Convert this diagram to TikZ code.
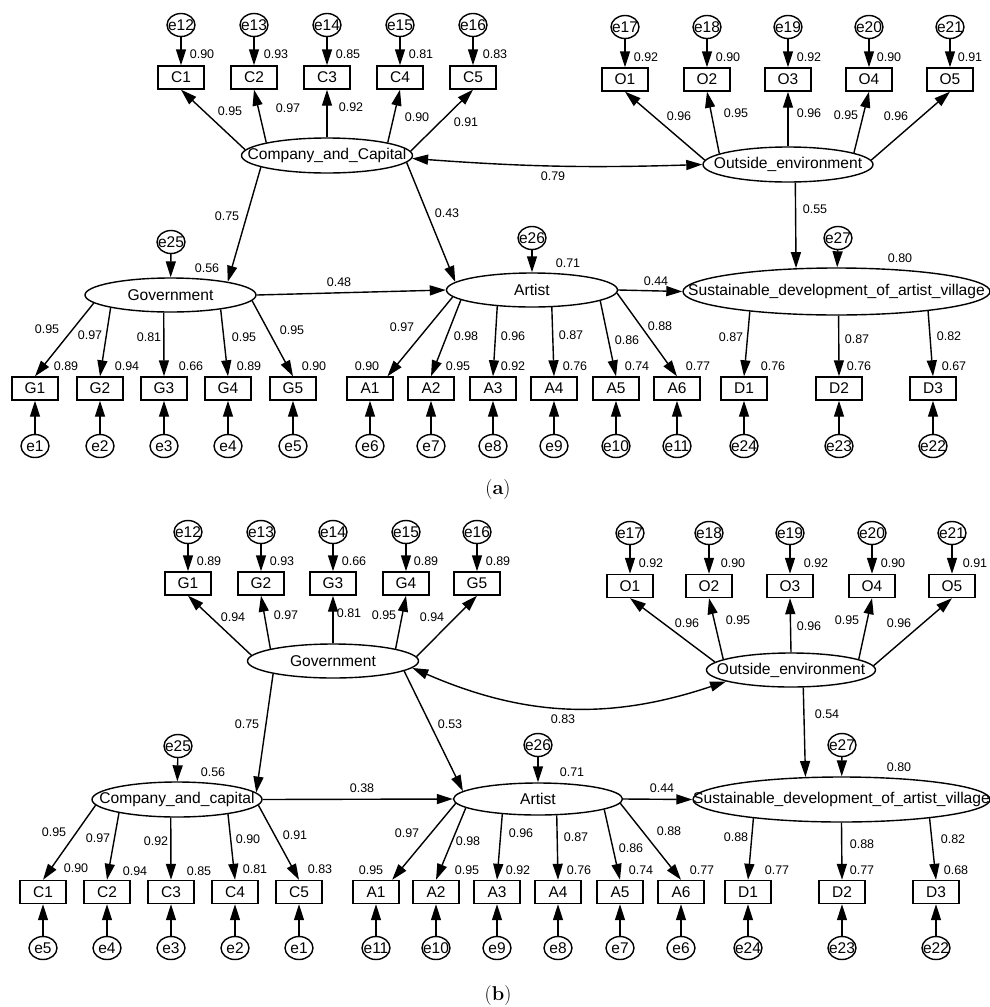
\documentclass[tikz,border=0pt]{standalone}
\usepackage{fontspec}
\newfontfamily\arial{Liberation Sans}
\usetikzlibrary{arrows.meta,shapes.geometric}
\begin{document}
\begin{tikzpicture}[x=1pt,y=-1pt,line width=1.4pt,
 >={Triangle[length=16pt,width=10pt]},
 arr/.style={->},
 dbl/.style={<->},
 lat/.style={ellipse,draw,inner xsep=-60pt,inner ysep=0pt,font=\arial\fontsize{15.6}{16}\selectfont},
 obs/.style={rectangle,draw,minimum width=46pt,minimum height=23pt,inner sep=0pt,font=\arial\fontsize{15.5}{16}\selectfont},
 err/.style={ellipse,draw,minimum width=28pt,minimum height=23pt,inner xsep=-5pt,inner ysep=0pt,font=\arial\fontsize{15.5}{16}\selectfont},
 num/.style={inner sep=0pt,font=\arial\fontsize{12.5}{13}\selectfont},
 captxt/.style={inner sep=0pt,font=\fontsize{20}{24}\selectfont}]
\fill[white] (0,0) rectangle (990,1007);
\useasboundingbox (0,0) rectangle (990,1007);

% ================= Panel (a) =================
\node[lat,minimum width=171pt,minimum height=35pt] (acc) at (327,155.5) {Company\_and\_Capital};
\node[lat,minimum width=170pt,minimum height=35pt] (aoe) at (788,164.5) {Outside\_environment};
\node[lat,minimum width=171pt,minimum height=34pt] (agov) at (170.5,295) {Government};
\node[lat,minimum width=171pt,minimum height=34pt] (aart) at (532,290) {Artist};
\node[lat,minimum width=307pt,minimum height=47pt] (asd) at (836.5,291.5) {Sustainable\_development\_of\_artist\_village};

\node[err] (ae25) at (171,242) {e25};
\node[err] (ae26) at (532,238) {e26};
\node[err] (ae27) at (838,238) {e27};
\draw[arr] (ae25) -- (agov);
\draw[arr] (ae26) -- (aart);
\draw[arr] (ae27) -- (asd);

\draw[arr] (acc.190) -- (agov.13);
\draw[arr] (acc.355) -- (aart.174);
\draw[dbl] (acc.358) to[bend right=3] (aoe.west);
\draw[arr] (aoe.292) -- (asd.150);
\draw[arr] (agov.east) -- (aart.west);
\draw[arr] (aart.east) -- (asd.west);

\node[num] (an075) at (227,216) {0.75};
\node[num] (an043) at (447,213) {0.43};
\node[num] (an079) at (553,176) {0.79};
\node[num] (an055) at (815,209) {0.55};
\node[num] (an056) at (207,268) {0.56};
\node[num] (an048) at (339,282) {0.48};
\node[num] (an071) at (568,263) {0.71};
\node[num] (an044) at (656,281) {0.44};
\node[num] (an080) at (900,258) {0.80};

\foreach \ii/\xx/\ee/\rx/\rv/\lx/\ly/\lv/\ang in {1/181/12/202/0.90/230/111/0.95/176, 2/254/13/276/0.93/288/108/0.97/168, 3/327/14/348/0.85/351/107/0.92/90, 4/400/15/421/0.81/417/117/0.90/12, 5/473/16/495/0.83/466/122/0.91/3}{
 \node[err] (ae\ee) at (\xx,25) {e\ee};
 \node[obs] (aC\ii) at (\xx,77.5) {C\ii};
 \node[num] (aRC\ii) at (\rx,54) {\rv};
 \node[num] (aLC\ii) at (\lx,\ly) {\lv};
 \draw[arr] (ae\ee) -- (aC\ii);
 \draw[arr] (acc.\ang) -- (aC\ii.south);
}
\foreach \ii/\xx/\ee/\rx/\rv/\lx/\ly/\lv/\ang in {1/625/17/646/0.92/679/116/0.96/177, 2/707/18/728/0.90/736/113/0.95/171, 3/788/19/809/0.92/809/113/0.96/90, 4/869/20/889/0.90/846/115/0.95/10, 5/950/21/970/0.91/896/116/0.96/3}{
 \node[err] (ae\ee) at (\xx,27) {e\ee};
 \node[obs] (aO\ii) at (\xx,79.5) {O\ii};
 \node[num] (aRO\ii) at (\rx,57) {\rv};
 \node[num] (aLO\ii) at (\lx,\ly) {\lv};
 \draw[arr] (ae\ee) -- (aO\ii);
 \draw[arr] (aoe.\ang) -- (aO\ii.south);
}
\foreach \ii/\xx/\ee/\rx/\rv/\lx/\ly/\lv/\ang in {1/35/1/66/0.89/47/329/0.95/186, 2/100/2/127/0.94/90/335/0.97/192, 3/164/3/191/0.66/149/337/0.81/249, 4/228/4/249/0.89/244/337/0.95/344, 5/293/5/314/0.90/292/330/0.95/356}{
 \node[err] (ae\ee) at (\xx,446) {e\ee};
 \node[obs] (aG\ii) at (\xx,388.5) {G\ii};
 \node[num] (aRG\ii) at (\rx,366) {\rv};
 \node[num] (aLG\ii) at (\lx,\ly) {\lv};
 \draw[arr] (ae\ee) -- (aG\ii);
 \draw[arr] (agov.\ang) -- (aG\ii.north);
}
\foreach \ii/\xx/\ee/\rx/\rv/\lx/\ly/\lv/\ang/\anc in {1/370/6/367/0.90/402/327/0.97/185/35, 2/431/7/458/0.95/466/336/0.98/188/north, 3/493/8/513/0.92/513/336/0.96/205/north, 4/554/9/575/0.76/571/335/0.87/319/north, 5/616/10/637/0.74/627/340/0.86/351/north, 6/677/11/698/0.77/660/326/0.88/358/north}{
 \node[err] (ae\ee) at (\xx,446) {e\ee};
 \node[obs] (aA\ii) at (\xx,388.5) {A\ii};
 \node[num] (aRA\ii) at (\rx,366) {\rv};
 \node[num] (aLA\ii) at (\lx,\ly) {\lv};
 \draw[arr] (ae\ee) -- (aA\ii);
 \draw[arr] (aart.\ang) -- (aA\ii.\anc);
}
\foreach \ii/\xx/\ee/\rx/\rv/\lx/\ly/\lv/\ang in {1/744/24/773/0.76/731/337/0.87/193, 2/839/23/859/0.76/857/339/0.87/275, 3/933/22/954/0.67/949/336/0.82/348}{
 \node[err] (ae\ee) at (\xx,446) {e\ee};
 \node[obs] (aD\ii) at (\xx,388.5) {D\ii};
 \node[num] (aRD\ii) at (\rx,366) {\rv};
 \node[num] (aLD\ii) at (\lx,\ly) {\lv};
 \draw[arr] (ae\ee) -- (aD\ii);
 \draw[arr] (asd.\ang) -- (aD\ii.north);
}
\node[captxt] (capa) at (498,490) {(\textbf{a})};

% ================= Panel (b) =================
\node[lat,minimum width=171pt,minimum height=34pt] (bgov) at (333,661) {Government};
\node[lat,minimum width=169pt,minimum height=34pt] (boe) at (791,670) {Outside\_environment};
\node[lat,minimum width=170pt,minimum height=35pt] (bcc) at (177,799.5) {Company\_and\_capital};
\node[lat,minimum width=169pt,minimum height=32pt] (bart) at (538,799) {Artist};
\node[lat,minimum width=297pt,minimum height=45pt] (bsd) at (841.5,799.5) {Sustainable\_development\_of\_artist\_village};

\node[err] (be25) at (178,746) {e25};
\node[err] (be26) at (538,745) {e26};
\node[err] (be27) at (842,745) {e27};
\draw[arr] (be25) -- (bcc);
\draw[arr] (be26) -- (bart);
\draw[arr] (be27) -- (bsd);

\draw[arr] (bgov.192) -- (bcc.5);
\draw[arr] (bgov.352) -- (bart.174);
\draw[dbl] (bgov.355) to[bend right=21] (boe.190);
\draw[arr] (boe.305) -- (bsd.148);
\draw[arr] (bcc.east) -- (bart.west);
\draw[arr] (bart.east) -- (bsd.west);

\node[num] (bn075) at (247,724) {0.75};
\node[num] (bn053) at (450,724) {0.53};
\node[num] (bn083) at (563,719) {0.83};
\node[num] (bn054) at (827,714) {0.54};
\node[num] (bn056) at (213,772) {0.56};
\node[num] (bn038) at (362,788) {0.38};
\node[num] (bn071) at (572,772) {0.71};
\node[num] (bn044) at (662,788) {0.44};
\node[num] (bn080) at (899,767) {0.80};

\foreach \ii/\xx/\ee/\rx/\rv/\lx/\ly/\lv/\ang in {1/188/12/209/0.89/233/617/0.94/176, 2/261/13/282/0.93/286/615/0.97/169, 3/333/14/354/0.66/349/613/0.81/90, 4/406/15/426/0.89/384/615/0.95/11, 5/477/16/498/0.89/432/617/0.94/3}{
 \node[err] (be\ee) at (\xx,532) {e\ee};
 \node[obs] (bG\ii) at (\xx,583.5) {G\ii};
 \node[num] (bRG\ii) at (\rx,561) {\rv};
 \node[num] (bLG\ii) at (\lx,\ly) {\lv};
 \draw[arr] (be\ee) -- (bG\ii);
 \draw[arr] (bgov.\ang) -- (bG\ii.south);
}
\foreach \ii/\xx/\ee/\rx/\rv/\lx/\ly/\lv/\ang in {1/630/17/651/0.92/687/623/0.96/174, 2/709/18/733/0.90/738/620/0.95/171, 3/790/19/816/0.92/809/626/0.96/90, 4/872/20/893/0.90/847/620/0.95/9, 5/952/21/975/0.91/899/623/0.96/3}{
 \node[err] (be\ee) at (\xx,533) {e\ee};
 \node[obs] (bO\ii) at (\xx,586) {O\ii};
 \node[num] (bRO\ii) at (\rx,563) {\rv};
 \node[num] (bLO\ii) at (\lx,\ly) {\lv};
 \draw[arr] (be\ee) -- (bO\ii);
 \draw[arr] (boe.\ang) -- (bO\ii.south);
}
\foreach \ii/\xx/\ee/\rx/\ry/\rv/\lx/\ly/\lv/\ang in {1/43/5/76/868/0.90/54/832/0.95/184, 2/107/4/135/871/0.94/98/838/0.97/193, 3/171/3/199/871/0.85/156/841/0.92/251, 4/235/2/255/869/0.81/248/839/0.90/344, 5/299/1/320/869/0.83/295/835/0.91/356}{
 \node[err] (be\ee) at (\xx,948) {e\ee};
 \node[obs] (bC\ii) at (\xx,892) {C\ii};
 \node[num] (bRC\ii) at (\rx,\ry) {\rv};
 \node[num] (bLC\ii) at (\lx,\ly) {\lv};
 \draw[arr] (be\ee) -- (bC\ii);
 \draw[arr] (bcc.\ang) -- (bC\ii.north);
}
\foreach \ii/\xx/\ee/\rx/\rv/\lx/\ly/\lv/\ang/\anc in {1/376/11/371/0.95/407/833/0.97/183/37, 2/436/10/467/0.95/468/841/0.98/187/north, 3/497/9/518/0.92/521/833/0.96/203/north, 4/558/8/579/0.76/576/837/0.87/319/north, 5/620/7/641/0.74/631/848/0.86/351/north, 6/681/6/702/0.77/669/831/0.88/357/north}{
 \node[err] (be\ee) at (\xx,948) {e\ee};
 \node[obs] (bA\ii) at (\xx,892) {A\ii};
 \node[num] (bRA\ii) at (\rx,870) {\rv};
 \node[num] (bLA\ii) at (\lx,\ly) {\lv};
 \draw[arr] (be\ee) -- (bA\ii);
 \draw[arr] (bart.\ang) -- (bA\ii.\anc);
}
\foreach \ii/\xx/\ee/\rx/\rv/\lx/\ly/\lv/\ang in {1/748/24/777/0.77/736/837/0.88/192, 2/842/23/862/0.77/862/844/0.88/270, 3/936/22/956/0.68/953/839/0.82/348}{
 \node[err] (be\ee) at (\xx,948) {e\ee};
 \node[obs] (bD\ii) at (\xx,892) {D\ii};
 \node[num] (bRD\ii) at (\rx,870) {\rv};
 \node[num] (bLD\ii) at (\lx,\ly) {\lv};
 \draw[arr] (be\ee) -- (bD\ii);
 \draw[arr] (bsd.\ang) -- (bD\ii.north);
}
\node[captxt] (capb) at (498,995) {(\textbf{b})};
\end{tikzpicture}
\end{document}
